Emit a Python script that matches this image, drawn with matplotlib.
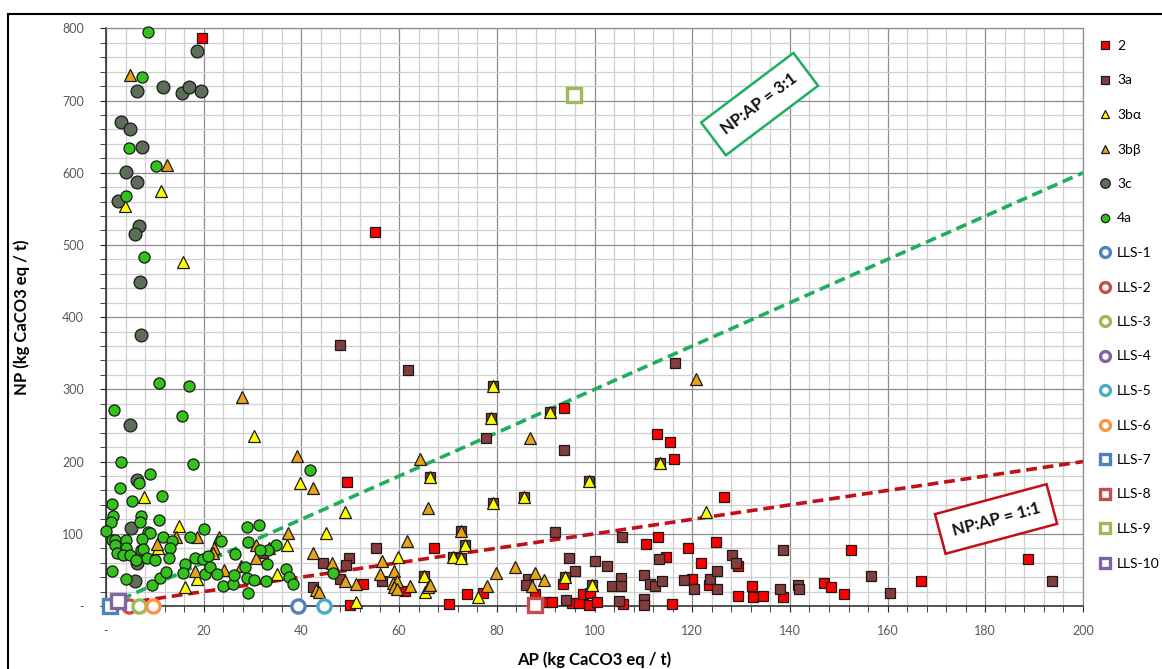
import matplotlib
matplotlib.use("Agg")
import matplotlib.pyplot as plt
from matplotlib.lines import Line2D
from matplotlib.ticker import MultipleLocator, FuncFormatter

plt.rcParams['font.family'] = ['Lato', 'DejaVu Sans']

# ---- data (AP, NP) ----
ap_2 = [19.7, 55.1, 49.3, 52.7, 49.9, 61.2, 67.1, 74.0, 70.3, 77.1, 87.8, 90.0, 91.2, 93.8, 93.5,
        95.4, 96.9, 97.7, 99.1, 98.9, 100.6, 105.9, 115.8, 112.7, 115.5, 116.2, 126.6, 110.5, 113.1,
        119.2, 124.8, 114.6, 121.8, 129.4, 120.0, 123.4, 129.4, 132.2, 132.5, 134.4, 138.5, 147.0,
        148.5, 152.6, 151.1, 166.8, 188.8]
np_2 = [786, 518, 172, 30, 1, 21, 80, 16, 3, 18, 17, 6, 6, 274, 31,
        4, 4, 17, 18, 1, 5, 3, 3, 238, 227, 204, 151, 86, 96,
        80, 88, 68, 60, 56, 37, 29, 14, 28, 13, 14, 13, 32,
        26, 78, 16, 34, 65]

ap_3a = [48.0, 61.8, 79.3, 78.9, 77.8, 66.4, 85.6, 79.3, 72.7, 73.5, 71.1, 72.6, 65.0, 55.3, 44.5,
         49.7, 49.1, 47.9, 42.4, 56.6, 32.2, 86.3, 86.0, 92.0, 94.8, 96.1, 94.0, 94.1, 90.9, 93.8,
         116.5, 113.5, 98.9, 105.7, 100.1, 113.3, 128.1, 129.0, 138.5, 102.5, 110.2, 105.4, 103.5,
         105.4, 111.4, 112.4, 113.9, 118.4, 120.4, 123.6, 125.0, 125.0, 99.4, 105.0, 110.2, 110.2,
         138.0, 141.6, 141.9, 156.6, 160.5, 193.7]
np_3a = [361, 327, 305, 261, 232, 178, 151, 143, 104, 85, 68, 67, 41, 81, 60,
         67, 57, 37, 27, 34, 74, 37, 29, 103, 66, 49, 40, 8, 268, 216,
         337, 198, 173, 95, 62, 65, 70, 59, 77, 55, 43, 39, 28,
         28, 30, 28, 34, 36, 24, 37, 49, 23, 29, 7, 10, 2,
         24, 29, 24, 41, 18, 34]

ap_3ba = [11.3, 3.9, 15.8, 30.3, 7.7, 15.0, 10.7, 18.7, 16.2, 39.7, 48.9, 45.0, 37.1, 33.4, 35.1,
          51.2, 59.8, 65.3, 76.2, 79.3, 78.9, 66.4, 85.6, 79.3, 73.5, 71.1, 72.6, 65.0, 94.0,
          90.9, 113.5, 98.9, 99.4, 122.8]
np_3ba = [575, 554, 476, 235, 151, 111, 80, 37, 27, 170, 130, 101, 85, 80, 45,
          6, 68, 20, 12, 305, 261, 178, 151, 143, 85, 68, 67, 41, 40,
          268, 198, 173, 29, 130]

ap_3bb = [4.9, 12.4, 27.9, 14.3, 18.7, 23.1, 10.5, 22.1, 22.0, 30.8, 30.8, 18.3, 24.2, 27.6, 37.3,
          42.3, 39.2, 42.3, 46.2, 48.9, 43.0, 43.6, 51.1, 56.6, 61.7, 56.0, 59.0, 58.7, 59.6, 59.0,
          59.6, 62.2, 64.3, 66.0, 86.8, 72.7, 79.8, 83.7, 87.8, 89.7, 87.3, 77.9, 66.0, 66.4, 120.7]
np_3bb = [735, 611, 290, 96, 95, 95, 86, 81, 73, 84, 67, 48, 50, 55, 101,
          163, 208, 73, 59, 35, 22, 20, 30, 63, 90, 44, 48, 32, 34, 26,
          23, 28, 204, 136, 233, 104, 46, 54, 46, 36, 28, 28, 27, 29, 314]

ap_3c = [18.7, 6.3, 11.7, 15.5, 17.0, 19.4, 3.0, 4.9, 7.3, 4.1, 6.3, 2.5, 6.7, 5.9, 7.0,
         7.2, 4.9, 6.3, 5.1, 6.3, 5.9]
np_3c = [769, 713, 719, 710, 719, 713, 670, 660, 636, 601, 587, 561, 526, 515, 448,
         375, 251, 174, 108, 59, 35]

ap_4a = [8.7, 7.4, 4.8, 10.3, 4.1, 7.7, 10.9, 16.9, 1.6, 15.6, 3.1, 17.8, 9.1, 6.8, 2.9,
         11.5, 5.3, 1.2, 1.4, 7.2, 1.0, 7.0, 10.8, 0.1, 8.5, 9.0, 20.1, 11.6, 17.1, 1.2,
         1.8, 4.1, 7.3, 13.6, 23.5, 1.8, 4.1, 13.2, 2.3, 3.5, 4.9, 7.2, 7.6, 8.3, 6.1,
         10.0, 12.8, 18.3, 19.9, 20.9, 26.5, 28.8, 29.1, 31.4, 1.3, 4.1, 9.5, 11.1, 12.3,
         16.2, 15.8, 20.3, 21.2, 22.8, 23.9, 25.9, 26.3, 28.5, 28.8, 29.1, 30.3, 41.8, 34.8,
         33.2, 31.5, 33.0, 36.8, 37.5, 38.3, 32.8, 46.4]
np_4a = [795, 732, 634, 609, 568, 483, 309, 304, 271, 263, 199, 196, 183, 171, 163,
         153, 145, 141, 124, 125, 117, 117, 119, 104, 103, 101, 106, 96, 95, 91,
         91, 91, 93, 90, 90, 84, 81, 80, 73, 71, 71, 77, 79, 66, 64,
         64, 66, 66, 65, 69, 72, 109, 89, 112, 48, 37, 29, 39, 47,
         58, 46, 45, 54, 44, 28, 31, 43, 54, 39, 18, 36, 189, 84,
         78, 78, 58, 51, 40, 31, 34, 46]

lls_names = ['LLS-1', 'LLS-2', 'LLS-3', 'LLS-4', 'LLS-5', 'LLS-6', 'LLS-7', 'LLS-8', 'LLS-9', 'LLS-10']
lls_ap = [[39.3], [4.8], [6.8], [], [44.6], [9.6], [0.8], [87.8], [95.8], [2.5]]
lls_np = [[0], [0], [0], [], [0], [0], [0], [2], [708], [7]]

ratio_lines = [3, 1]
ap_range = [0, 200]

# ---- figure ----
W, H = 1162, 669
fig = plt.figure(figsize=(W / 100, H / 100), dpi=100)
ax = fig.add_axes([106 / W, 1 - 606 / H, (1083 - 106) / W, (606 - 28.3) / H])

ax.set_xlim(0, 200)
ax.set_ylim(0, 800)

ax.xaxis.set_major_locator(MultipleLocator(20))
ax.xaxis.set_minor_locator(MultipleLocator(4))
ax.yaxis.set_major_locator(MultipleLocator(100))
ax.yaxis.set_minor_locator(MultipleLocator(20))
fmt = FuncFormatter(lambda v, p: '-' if v == 0 else f'{v:.0f}')
ax.xaxis.set_major_formatter(fmt)
ax.yaxis.set_major_formatter(fmt)

ax.grid(which='major', color='#8c8c8c', lw=0.9)
ax.grid(which='minor', color='#cfcfcf', lw=0.9)
ax.set_axisbelow(True)
for s in ['top', 'right']:
    ax.spines[s].set_color('#8c8c8c')
    ax.spines[s].set_linewidth(0.9)
for s in ['left', 'bottom']:
    ax.spines[s].set_color('#262626')
    ax.spines[s].set_linewidth(1.1)

ax.tick_params(which='both', direction='out', color='#262626', length=4)
ax.tick_params(axis='y', which='major', labelsize=9, labelcolor='#595959', pad=12)
ax.tick_params(axis='x', which='major', labelsize=9, labelcolor='#595959', pad=10)

ax.set_xlabel('AP (kg CaCO3 eq / t)', fontsize=12, fontweight='bold', labelpad=10)
ax.set_ylabel('NP (kg CaCO3 eq / t)', fontsize=12, fontweight='bold', labelpad=23)

# ratio lines
line_cols = ['#1fae5e', '#c0101a']
for r, c in zip(ratio_lines, line_cols):
    ax.plot(ap_range, [r * a for a in ap_range], color=c, lw=2.6,
            linestyle=(0, (3.0, 1.6)), zorder=2)

# series
mk = dict(linestyle='none', markeredgecolor='#1a1a1a', markeredgewidth=0.9, clip_on=False)
ax.plot(ap_2, np_2, 's', color='#ff0000', ms=7.6, label='2', zorder=3, **mk)
ax.plot(ap_3a, np_3a, 's', color='#843c3c', ms=7.6, label='3a', zorder=3.1, **mk)
ax.plot(ap_3ba, np_3ba, '^', color='#ffff00', ms=8.2, label='3bα', zorder=3.2, **mk)
ax.plot(ap_3bb, np_3bb, '^', color='#e8a317', ms=8.2, label='3bβ', zorder=3.3, **mk)
ax.plot(ap_3c, np_3c, 'o', color='#5c6d58', ms=9.2, label='3c', zorder=3.4, **mk)
ax.plot(ap_4a, np_4a, 'o', color='#33c21a', ms=8.0, label='4a', zorder=3.5, **mk)

lls_cols = ['#4f81bd', '#c0504d', '#9bbb59', '#8064a2', '#4bacc6', '#f79646',
            '#4f81bd', '#c0504d', '#9bbb59', '#8064a2']
for i, (name, xs, ys, c) in enumerate(zip(lls_names, lls_ap, lls_np, lls_cols)):
    m = 'o' if i < 6 else 's'
    ax.plot(xs, ys, m, color=c, markerfacecolor='white', markeredgecolor=c,
            markeredgewidth=2.4, ms=9.5, linestyle='none', label=name,
            zorder=4 + i * 0.01, clip_on=False)

# ratio annotations
ax.text(133.8, 695, 'NP:AP = 3:1', rotation=37, rotation_mode='anchor',
        ha='center', va='center', fontsize=12, fontweight='bold', color='#111111',
        bbox=dict(boxstyle='square,pad=0.75', fc='white', ec='#1fae5e', lw=1.8), zorder=6)
ax.text(182.2, 120.5, 'NP:AP = 1:1', rotation=15, rotation_mode='anchor',
        ha='center', va='center', fontsize=12, fontweight='bold', color='#111111',
        bbox=dict(boxstyle='square,pad=0.75', fc='white', ec='#c0101a', lw=1.8), zorder=6)

# legend
handles, labels = ax.get_legend_handles_labels()
leg = ax.legend(handles, labels, loc='upper left', bbox_to_anchor=(1099 / W, 1 - 40 / H),
                bbox_transform=fig.transFigure, frameon=False, fontsize=10,
                labelspacing=1.62, handlelength=0.8, handletextpad=0.5,
                borderaxespad=0, borderpad=0, markerscale=0.75)

# outer frame
fig.add_artist(Line2D([8 / W, 8 / W], [0, 1 - 14 / H], color='black', lw=1.5))
fig.add_artist(Line2D([8 / W, 1], [1 - 14 / H, 1 - 14 / H], color='black', lw=1.5))

fig.savefig('out.png', dpi=100)
